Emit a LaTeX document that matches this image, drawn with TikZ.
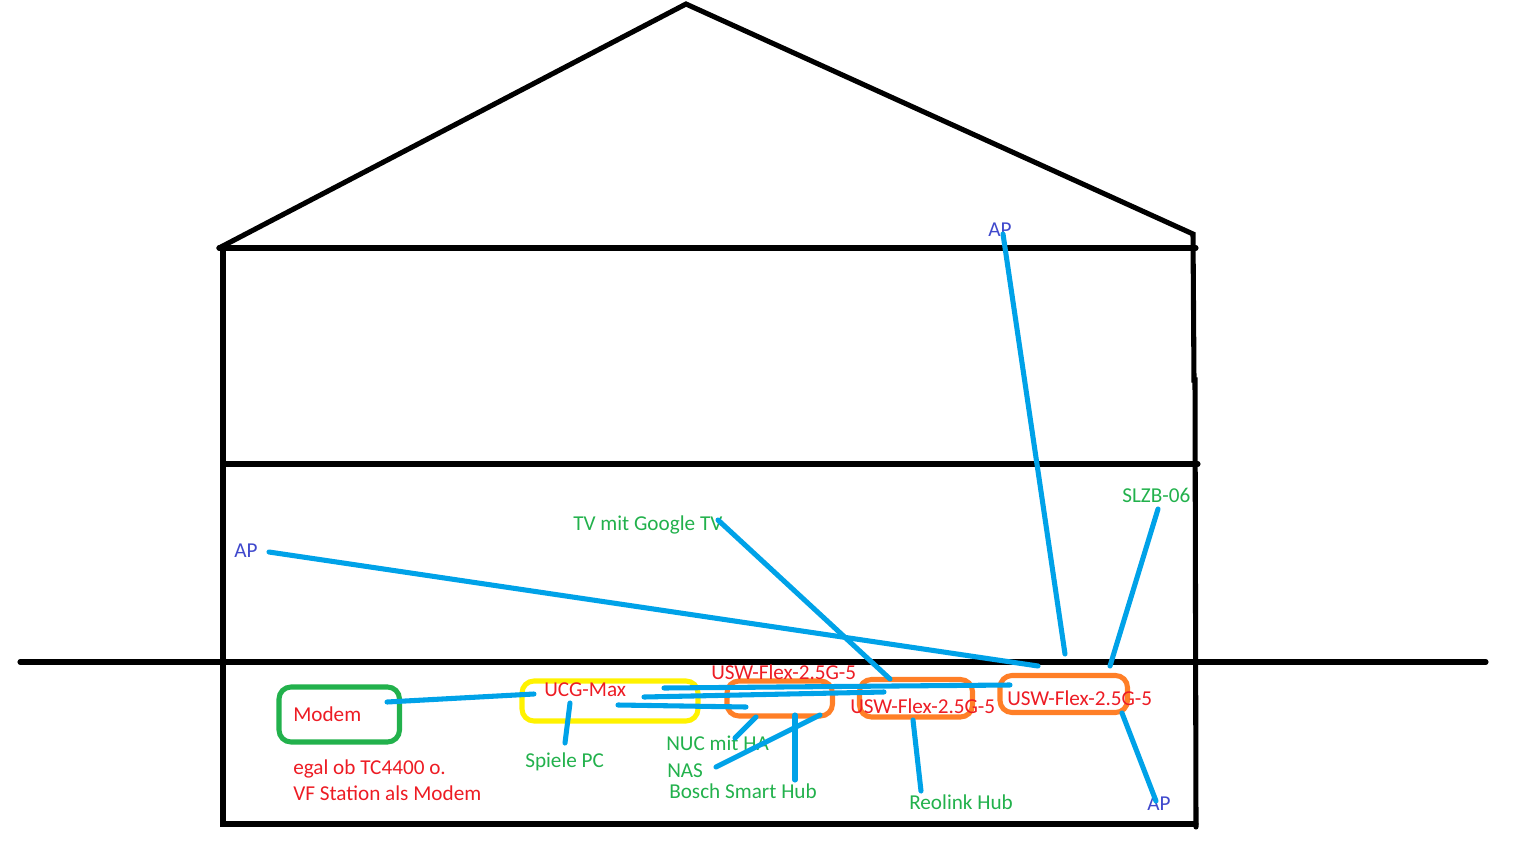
\documentclass[tikz,border=0pt]{standalone}
\usepackage{fontspec}
\setmainfont{Carlito}
\definecolor{wire}{HTML}{00A2E8}
\definecolor{lblred}{HTML}{ED1C24}
\definecolor{lblgreen}{HTML}{22B14C}
\definecolor{lblblue}{HTML}{3F48CC}
\definecolor{boxorange}{HTML}{FF7F27}
\definecolor{boxyellow}{HTML}{FFF200}
\tikzset{
  wall/.style={draw=black,line width=3.8pt,line cap=round},
  cable/.style={draw=wire,line width=3.8pt,line cap=round},
  devbox/.style={line width=3.8pt,rounded corners=9pt},
  txt/.style={inner sep=0pt,anchor=west,font=\fontsize{15.9}{19}\selectfont},
  redt/.style={txt,text=lblred},
  greent/.style={txt,text=lblgreen},
  bluet/.style={txt,text=lblblue},
}
\begin{document}
\begin{tikzpicture}[x=0.75pt,y=-0.75pt]
\useasboundingbox (0,0) rectangle (1536,864);
% house outline
\coordinate (roofL) at (219,248);
\coordinate (roofT) at (686,4);
\coordinate (roofR) at (1193,234);
\coordinate (wallLT) at (223,248);
\coordinate (wallLB) at (223,824);
\coordinate (wallLBR) at (1196,824);
\coordinate (wallRB) at (1196,827);
\coordinate (wallRM) at (1194,380);
\coordinate (wallRM2) at (1195,380);
\coordinate (floor1R) at (1196,248);
\coordinate (floor2L) at (223,464);
\coordinate (floor2R) at (1198,464);
\coordinate (groundL) at (20,662);
\coordinate (groundR) at (1486,662);
\draw[wall] (roofL) -- (roofT) -- (roofR) -- (wallRM) -- (wallRM2) -- (wallRB);
\draw[wall] (roofL) -- (floor1R);
\draw[wall] (wallLT) -- (wallLB) -- (wallLBR);
\draw[wall] (floor2L) -- (floor2R);
\draw[wall] (groundL) -- (groundR);
% boxes
\draw[devbox,draw=lblgreen] (279,687) rectangle (399.5,742);
\draw[devbox,draw=boxyellow] (522,681) rectangle (698,721);
\draw[devbox,draw=boxorange] (727,681) rectangle (832.5,716);
\draw[devbox,draw=boxorange] (859.5,679.5) rectangle (972.5,717);
\draw[devbox,draw=boxorange] (1000,675.5) rectangle (1127.5,712.5);
% labels
\node[redt] (modem) at (293,714.5) {Modem};
\node[redt] (egal) at (293,768.5) {egal ob TC4400 o.};
\node[redt] (vf) at (293,793) {VF Station als Modem};
\node[redt] (ucg) at (544,689.5) {UCG-Max};
\node[redt] (sw1) at (711,672.5) {USW-Flex-2.5G-5};
\node[redt] (sw2) at (850,706.5) {USW-Flex-2.5G-5};
\node[redt] (sw3) at (1007,698) {USW-Flex-2.5G-5};
\node[greent] (pc) at (525,762) {Spiele PC};
\node[greent] (nuc) at (666,743) {NUC mit HA};
\node[greent] (nas) at (667,770.5) {NAS};
\node[greent] (bosch) at (669,791.5) {Bosch Smart Hub};
\node[greent] (reo) at (909,802.5) {Reolink Hub};
\node[greent] (tv) at (573,525) {TV mit Google TV};
\node[greent] (slzb) at (1122,495) {SLZB-06};
\node[bluet] (ap1) at (234,550.5) {AP};
\node[bluet] (ap2) at (988,229.5) {AP};
\node[bluet] (ap3) at (1147,804) {AP};
% cable ends
\coordinate (a1) at (387,702); \coordinate (a2) at (534,694);
\coordinate (b1) at (570,703); \coordinate (b2) at (565,743);
\coordinate (c1) at (664,688); \coordinate (c2) at (1010,685);
\coordinate (d1) at (644,697); \coordinate (d2) at (884,692);
\coordinate (e1) at (618,705); \coordinate (e2) at (746,707);
\coordinate (f1) at (756,717); \coordinate (f2) at (735,738);
\coordinate (g1) at (820,715); \coordinate (g2) at (716,767);
\coordinate (h1) at (795,715); \coordinate (h2) at (795,780);
\coordinate (i1) at (913,720); \coordinate (i2) at (921,791);
\coordinate (j1) at (890,679); \coordinate (j2) at (718,520);
\coordinate (k1) at (1038,666); \coordinate (k2) at (269,552);
\coordinate (l1) at (1065,654); \coordinate (l2) at (1003,234);
\coordinate (m1) at (1110,666); \coordinate (m2) at (1158,509);
\coordinate (n1) at (1122,713); \coordinate (n2) at (1156,801);
\foreach \p/\q in {a1/a2,b1/b2,c1/c2,d1/d2,e1/e2,f1/f2,g1/g2,h1/h2,i1/i2,j1/j2,k1/k2,l1/l2,m1/m2,n1/n2}
  \draw[cable] (\p) -- (\q);
\end{tikzpicture}
\end{document}
